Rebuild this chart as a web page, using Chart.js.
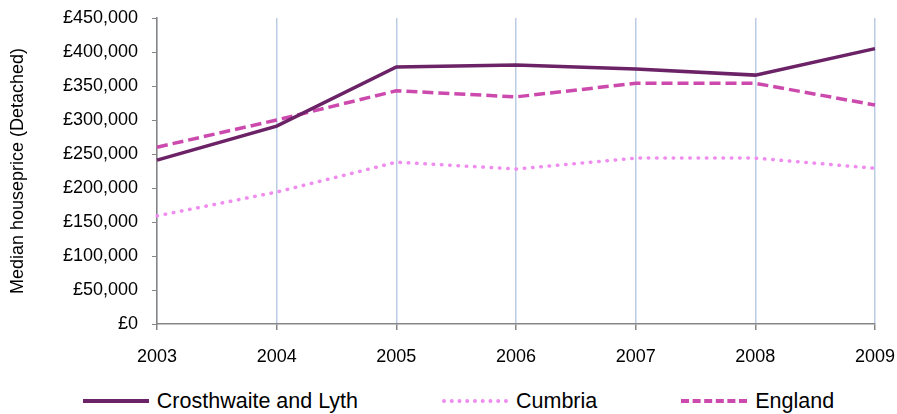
<!DOCTYPE html>
<html>
<head>
<meta charset="utf-8">
<script src="https://cdn.jsdelivr.net/npm/chart.js@4/dist/chart.umd.min.js"></script>
<style>
  html, body { margin: 0; padding: 0; background: #fff; }
  #wrap { position: relative; width: 897px; height: 414px; font-family: "Liberation Sans", Arial, sans-serif; }
  #chartBox { position: absolute; left: 0; top: 0; width: 897px; height: 374px; }
  #legend { position: absolute; left: 0; top: 382px; width: 897px; height: 38px;
            display: flex; justify-content: center; align-items: center; padding-left: 20px; box-sizing: border-box; gap: 84px; }
  .item { display: flex; align-items: center; font-size: 21.5px; color: #000; white-space: nowrap; }
  .swatch { width: 66px; height: 0; margin-right: 8px; }
</style>
</head>
<body>
<div id="wrap">
  <div id="chartBox"><canvas id="houseChart"></canvas></div>
  <div id="legend"></div>
</div>
<script>
const years = ['2003', '2004', '2005', '2006', '2007', '2008', '2009'];
const crosthwaite = [241000, 291000, 378000, 381000, 375000, 366000, 405000];
const cumbria = [159000, 194000, 238000, 228000, 244000, 244000, 229000];
const england = [260000, 300000, 343000, 334000, 354000, 354000, 322000];

const AXIS = '#868686';
const GRID = '#b9cce4';
const FONT = '"Liberation Sans", Arial, sans-serif';

function gbp(v) {
  return '£' + Number(v).toLocaleString('en-GB');
}

const ctx = document.getElementById('houseChart').getContext('2d');
const chart = new Chart(ctx, {
  type: 'line',
  data: {
    labels: years,
    datasets: [
      {
        label: 'Crosthwaite and Lyth',
        data: crosthwaite,
        borderColor: '#6b2266',
        borderWidth: 3.5,
        pointRadius: 0,
        tension: 0
      },
      {
        label: 'Cumbria',
        data: cumbria,
        borderColor: '#f08cf0',
        borderWidth: 3.5,
        borderDash: [0.5, 7.8],
        borderCapStyle: 'round',
        pointRadius: 0,
        tension: 0
      },
      {
        label: 'England',
        data: england,
        borderColor: '#cc4aad',
        borderWidth: 3.5,
        borderDash: [11, 5],
        pointRadius: 0,
        tension: 0
      }
    ]
  },
  options: {
    responsive: true,
    maintainAspectRatio: false,
    animation: false,
    layout: { padding: { top: 18, right: 22, left: 0, bottom: 0 } },
    scales: {
      x: {
        type: 'category',
        offset: false,
        grid: {
          color: GRID,
          lineWidth: 1.5,
          tickColor: AXIS,
          tickLength: 6
        },
        border: { color: AXIS, width: 1.5 },
        ticks: {
          color: '#000',
          font: { family: FONT, size: 18 },
          padding: 16,
          maxRotation: 0
        },
        afterFit: function(scale) {
          scale.height = 50;
          scale.paddingLeft = 0;
          scale.paddingRight = 0;
        }
      },
      y: {
        min: 0,
        max: 450000,
        grid: {
          drawOnChartArea: false,
          tickColor: AXIS,
          tickLength: 5
        },
        border: { color: AXIS, width: 1.5 },
        ticks: {
          stepSize: 50000,
          color: '#000',
          font: { family: FONT, size: 18 },
          padding: 14,
          callback: gbp
        },
        title: {
          display: true,
          text: 'Median houseprice (Detached)',
          color: '#000',
          font: { family: FONT, size: 18 },
          padding: { top: 7, bottom: 0 }
        },
        afterFit: function(scale) {
          scale.width = 157;
          scale.paddingTop = 0;
          scale.paddingBottom = 0;
        }
      }
    },
    plugins: {
      legend: { display: false },
      tooltip: { enabled: false }
    }
  }
});

// html legend built from the datasets
const legendEl = document.getElementById('legend');
chart.data.datasets.forEach(ds => {
  const item = document.createElement('div');
  item.className = 'item';
  const sw = document.createElement('span');
  sw.className = 'swatch';
  let style = 'solid';
  if (ds.borderDash && ds.borderDash[0] < 2) style = 'dotted';
  else if (ds.borderDash) style = 'dashed';
  sw.style.borderTop = '4px ' + style + ' ' + ds.borderColor;
  const txt = document.createElement('span');
  txt.textContent = ds.label;
  item.appendChild(sw);
  item.appendChild(txt);
  legendEl.appendChild(item);
});
</script>
</body>
</html>
